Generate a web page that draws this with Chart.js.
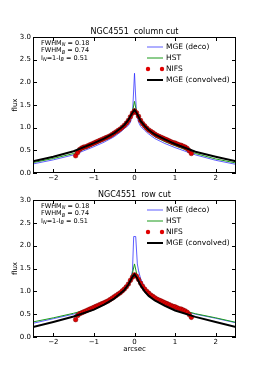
<!DOCTYPE html>
<html>
<head>
<meta charset="utf-8">
<script src="https://cdn.jsdelivr.net/npm/chart.js@4"></script>
<style>
  body { margin: 0; background: #fff; }
  .panel { position: absolute; left: 0; width: 262px; height: 187px; }
</style>
</head>
<body>
<div class="panel" style="top:0"><canvas id="colCut" width="262" height="187"></canvas></div>
<div class="panel" style="top:187px"><canvas id="rowCut" width="262" height="187"></canvas></div>
<script>
// axes
const xTicks = [-2, -1, 0, 1, 2];
const yTicks = [0, 0.5, 1, 1.5, 2, 2.5, 3];
const legendLabels = ["MGE (deco)", "HST", "NIFS", "MGE (convolved)"];

// model grid (arcsec)
const modelX = [-2.5, -2, -1.5, -1, -0.75, -0.5, -0.35, -0.25, -0.15, -0.1, -0.05, 0, 0.05, 0.1, 0.15, 0.25, 0.35, 0.5, 0.75, 1, 1.5, 2, 2.5];

// column cut
const colDeco = [0.2, 0.29, 0.4, 0.58, 0.68, 0.8, 0.9, 0.98, 1.05, 1.12, 1.3, 2.2, 1.3, 1.12, 1.03, 0.94, 0.86, 0.76, 0.65, 0.56, 0.4, 0.28, 0.19];
const colHst = [0.23, 0.32, 0.43, 0.62, 0.72, 0.85, 0.95, 1.02, 1.1, 1.22, 1.35, 1.58, 1.35, 1.2, 1.1, 0.98, 0.91, 0.8, 0.69, 0.6, 0.43, 0.31, 0.22];
const colConv = [0.26, 0.36, 0.48, 0.66, 0.76, 0.88, 0.98, 1.06, 1.17, 1.25, 1.33, 1.39, 1.33, 1.24, 1.15, 1.04, 0.95, 0.85, 0.74, 0.64, 0.47, 0.36, 0.26];

// row cut
const rowDecoX = [-2.5, -2, -1.5, -1, -0.75, -0.5, -0.35, -0.25, -0.15, -0.1, -0.05, -0.02, 0.03, 0.07, 0.1, 0.15, 0.25, 0.35, 0.5, 0.75, 1, 1.5, 2, 2.5];
const rowDeco = [0.3, 0.4, 0.5, 0.62, 0.72, 0.85, 0.95, 1.03, 1.15, 1.25, 1.45, 2.2, 2.2, 1.6, 1.45, 1.28, 1.08, 0.96, 0.84, 0.71, 0.62, 0.5, 0.41, 0.31];
const rowHst = [0.33, 0.42, 0.52, 0.64, 0.74, 0.87, 0.97, 1.06, 1.18, 1.27, 1.4, 1.6, 1.4, 1.26, 1.16, 1.04, 0.94, 0.84, 0.72, 0.63, 0.51, 0.42, 0.32];
const rowConv = [0.22, 0.33, 0.45, 0.6, 0.71, 0.84, 0.95, 1.03, 1.15, 1.23, 1.32, 1.37, 1.31, 1.22, 1.13, 1.0, 0.9, 0.8, 0.68, 0.58, 0.44, 0.33, 0.22];

// NIFS data points
const nifsX = [-1.45, -1.4, -1.35, -1.3, -1.25, -1.2, -1.15, -1.1, -1.05, -1.0, -0.95, -0.9, -0.85, -0.8, -0.75, -0.7, -0.65, -0.6, -0.55, -0.5, -0.45, -0.4, -0.35, -0.3, -0.25, -0.2, -0.15, -0.1, -0.05, 0, 0.05, 0.1, 0.15, 0.2, 0.25, 0.3, 0.35, 0.4, 0.45, 0.5, 0.55, 0.6, 0.65, 0.7, 0.75, 0.8, 0.85, 0.9, 0.95, 1.0, 1.05, 1.1, 1.15, 1.2, 1.25, 1.3, 1.35, 1.4];
const colNifs = [0.38, 0.45, 0.52, 0.55, 0.57, 0.58, 0.6, 0.62, 0.64, 0.66, 0.68, 0.7, 0.72, 0.74, 0.76, 0.78, 0.8, 0.82, 0.85, 0.88, 0.91, 0.94, 0.97, 1.01, 1.05, 1.1, 1.16, 1.24, 1.32, 1.37, 1.33, 1.25, 1.16, 1.09, 1.04, 0.99, 0.95, 0.92, 0.89, 0.86, 0.83, 0.81, 0.79, 0.77, 0.75, 0.73, 0.71, 0.69, 0.67, 0.66, 0.64, 0.62, 0.61, 0.59, 0.57, 0.54, 0.49, 0.43];
const rowNifs = [0.38, 0.47, 0.51, 0.53, 0.55, 0.57, 0.59, 0.61, 0.63, 0.65, 0.67, 0.69, 0.71, 0.73, 0.75, 0.77, 0.79, 0.82, 0.85, 0.88, 0.91, 0.94, 0.97, 1.01, 1.05, 1.1, 1.16, 1.24, 1.31, 1.36, 1.33, 1.26, 1.18, 1.11, 1.05, 1.0, 0.96, 0.92, 0.89, 0.86, 0.83, 0.81, 0.79, 0.77, 0.75, 0.73, 0.71, 0.69, 0.67, 0.66, 0.64, 0.62, 0.61, 0.59, 0.57, 0.54, 0.49, 0.43];

const FONT = "DejaVu Sans";
const colors = ["rgba(40,40,255,0.75)", "#1a9a1a", "#e00000", "#000000"];

function pts(xs, ys) {
  return xs.map((x, i) => ({ x: x, y: ys[i] }));
}

// matplotlib-like frame, inward ticks, title, legend and annotation
const framePlugin = {
  id: "frame",
  afterDraw(chart, args, opts) {
    const ctx = chart.ctx;
    const a = chart.chartArea;
    const xs = chart.scales.x, ys = chart.scales.y;
    ctx.save();
    ctx.strokeStyle = "#000";
    ctx.lineWidth = 1;
    ctx.strokeRect(a.left + 0.5, a.top + 0.5, a.right - a.left - 1, a.bottom - a.top - 1);
    ctx.beginPath();
    xTicks.forEach(v => {
      const px = Math.round(xs.getPixelForValue(v)) + 0.5;
      ctx.moveTo(px, a.bottom); ctx.lineTo(px, a.bottom - 4);
      ctx.moveTo(px, a.top); ctx.lineTo(px, a.top + 4);
    });
    yTicks.forEach(v => {
      const py = Math.round(ys.getPixelForValue(v)) + 0.5;
      ctx.moveTo(a.left, py); ctx.lineTo(a.left + 4, py);
      ctx.moveTo(a.right, py); ctx.lineTo(a.right - 4, py);
    });
    ctx.stroke();

    // title, centred over the axes
    ctx.fillStyle = "#000";
    ctx.font = "8px '" + FONT + "'";
    ctx.textAlign = "center";
    ctx.textBaseline = "bottom";
    ctx.fillText(opts.title, (a.left + a.right) / 2, a.top - 1);

    // legend
    ctx.font = "7.5px '" + FONT + "'";
    ctx.textBaseline = "middle";
    ctx.textAlign = "left";
    legendLabels.forEach((lab, i) => {
      const y = a.top + 10 + i * 11;
      if (i === 2) {
        [148, 162].forEach(cx => {
          ctx.beginPath();
          ctx.arc(cx, y, 2.2, 0, Math.PI * 2);
          ctx.fillStyle = colors[2];
          ctx.fill();
        });
      } else {
        ctx.beginPath();
        ctx.strokeStyle = colors[i];
        ctx.lineWidth = i === 3 ? 2 : 1;
        ctx.moveTo(147, y); ctx.lineTo(163, y);
        ctx.stroke();
      }
      ctx.fillStyle = "#000";
      ctx.fillText(lab, 166, y);
    });

    // annotation
    const rows = [
      [["FWHM", ""], ["N", "sub"], [" = 0.18", ""]],
      [["FWHM", ""], ["B", "sub"], [" = 0.74", ""]],
      [["I", ""], ["N", "sub"], ["=1-I", ""], ["B", "sub"], [" = 0.51", ""]]
    ];
    rows.forEach((parts, r) => {
      let x = a.left + 8;
      const y = a.top + 6.5 + r * 7.3;
      parts.forEach(([t, kind]) => {
        if (kind === "sub") {
          ctx.font = "italic 5px '" + FONT + "'";
          ctx.fillText(t, x, y + 1.5);
        } else {
          ctx.font = "6.5px '" + FONT + "'";
          ctx.fillText(t, x, y);
        }
        x += ctx.measureText(t).width;
      });
    });
    ctx.restore();
  }
};

function makeChart(id, title, deco, decoX, hst, conv, nifs, bottomPanel) {
  const ctx = document.getElementById(id).getContext("2d");
  return new Chart(ctx, {
    type: "line",
    data: {
      datasets: [
        { label: legendLabels[0], data: pts(decoX, deco), borderColor: colors[0], borderWidth: 1, pointRadius: 0, order: 4 },
        { label: legendLabels[1], data: pts(modelX, hst), borderColor: colors[1], borderWidth: 1, pointRadius: 0, order: 3 },
        { label: legendLabels[2], data: pts(nifsX, nifs), showLine: false, pointRadius: 2.3, pointBackgroundColor: colors[2], pointBorderColor: "#7a0000", pointBorderWidth: 0.5, order: 2 },
        { label: legendLabels[3], data: pts(modelX, conv), borderColor: colors[3], borderWidth: 2, pointRadius: 0, order: 1 }
      ]
    },
    options: {
      responsive: false,
      animation: false,
      layout: { padding: { left: 0, right: 26, top: bottomPanel ? 13 : 37, bottom: bottomPanel ? 21 : 0 } },
      plugins: {
        legend: { display: false },
        tooltip: { enabled: false },
        title: { display: false },
        frame: { title: title }
      },
      scales: {
        x: {
          type: "linear", min: -2.5, max: 2.5,
          afterBuildTicks: s => { s.ticks = xTicks.map(v => ({ value: v })); },
          afterFit: s => { s.height = bottomPanel ? 16 : 14; },
          grid: { display: false, drawTicks: false },
          border: { display: false },
          ticks: {
            padding: 1, color: "#000",
            font: { family: FONT, size: 7 },
            callback: v => (v < 0 ? "\u2212" + Math.abs(v) : String(v))
          },
          title: {
            display: bottomPanel, text: "arcsec", color: "#000",
            font: { family: FONT, size: 7 }, padding: 0
          }
        },
        y: {
          min: 0, max: 3,
          afterBuildTicks: s => { s.ticks = yTicks.map(v => ({ value: v })); },
          afterFit: s => { s.width = 33; },
          grid: { display: false, drawTicks: false },
          border: { display: false },
          ticks: {
            padding: 2, color: "#000",
            font: { family: FONT, size: 7 },
            callback: v => v.toFixed(1)
          },
          title: {
            display: true, text: "flux", color: "#000",
            font: { family: FONT, size: 7 }, padding: { top: 11, bottom: 0 }
          }
        }
      }
    },
    plugins: [framePlugin]
  });
}

makeChart("colCut", "NGC4551  column cut", colDeco, modelX, colHst, colConv, colNifs, false);
makeChart("rowCut", "NGC4551  row cut", rowDeco, rowDecoX, rowHst, rowConv, rowNifs, true);
</script>
</body>
</html>
